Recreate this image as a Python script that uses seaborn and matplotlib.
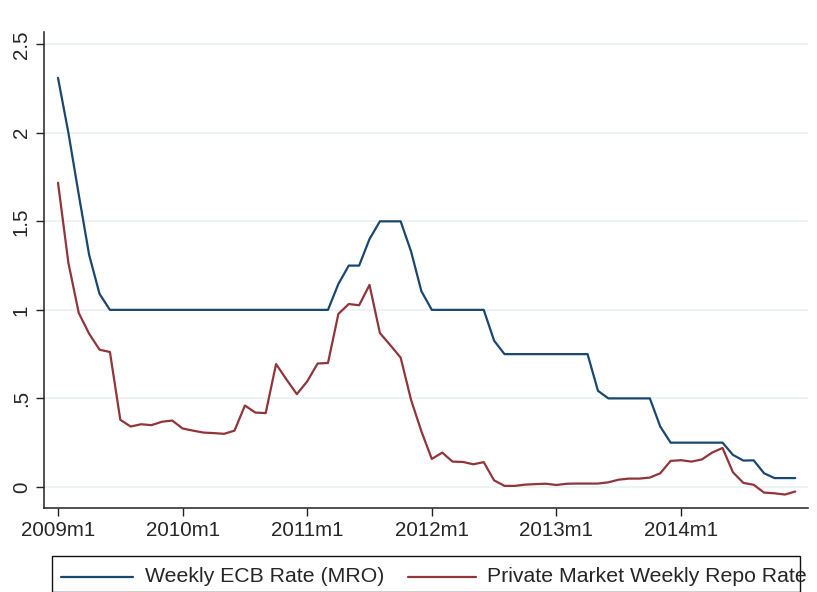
import numpy as np
import pandas as pd
import matplotlib.pyplot as plt
from matplotlib.lines import Line2D
from matplotlib.patches import Rectangle
import seaborn as sns

# Monthly series, 2009m1 .. 2014m12
months = pd.period_range("2009-01", "2014-12", freq="M")

ecb_rate = [
    2.31, 2.00, 1.65, 1.31, 1.09, 1.00, 1.00, 1.00, 1.00, 1.00, 1.00, 1.00,
    1.00, 1.00, 1.00, 1.00, 1.00, 1.00, 1.00, 1.00, 1.00, 1.00, 1.00, 1.00,
    1.00, 1.00, 1.00, 1.146, 1.25, 1.25, 1.40, 1.50, 1.50, 1.50, 1.33, 1.105,
    1.00, 1.00, 1.00, 1.00, 1.00, 1.00, 0.826, 0.75, 0.75, 0.75, 0.75, 0.75,
    0.75, 0.75, 0.75, 0.75, 0.543, 0.50, 0.50, 0.50, 0.50, 0.50, 0.341, 0.25,
    0.25, 0.25, 0.25, 0.25, 0.25, 0.181, 0.149, 0.15, 0.077, 0.05, 0.05, 0.05,
]

repo_rate = [
    1.718, 1.265, 0.982, 0.865, 0.775, 0.762, 0.379, 0.341, 0.354, 0.349, 0.368, 0.375,
    0.330, 0.318, 0.307, 0.304, 0.300, 0.318, 0.460, 0.420, 0.417, 0.694, 0.607, 0.524,
    0.596, 0.697, 0.700, 0.977, 1.033, 1.026, 1.141, 0.869, 0.801, 0.730, 0.492, 0.313,
    0.158, 0.194, 0.143, 0.141, 0.128, 0.140, 0.037, 0.006, 0.006, 0.013, 0.016, 0.018,
    0.011, 0.018, 0.019, 0.019, 0.019, 0.026, 0.041, 0.047, 0.047, 0.053, 0.077, 0.147,
    0.151, 0.143, 0.155, 0.194, 0.220, 0.083, 0.023, 0.012, -0.032, -0.036, -0.043, -0.026,
]

series_names = ["Weekly ECB Rate (MRO)", "Private Market Weekly Repo Rate"]
series_colors = ["#1a476f", "#90353b"]

x_ticks = [0, 12, 24, 36, 48, 60]
x_labels = ["2009m1", "2010m1", "2011m1", "2012m1", "2013m1", "2014m1"]
y_ticks = [0, 0.5, 1, 1.5, 2, 2.5]
y_labels = ["0", ".5", "1", "1.5", "2", "2.5"]

# long form table for seaborn
t = np.arange(len(months))
df = pd.concat([
    pd.DataFrame({"t": t, "rate": ecb_rate, "series": series_names[0]}),
    pd.DataFrame({"t": t, "rate": repo_rate, "series": series_names[1]}),
])

sns.set_style("white")
plt.rcParams["font.family"] = ["Liberation Sans", "DejaVu Sans"]

fig = plt.figure(figsize=(8.17, 5.92), dpi=100)
ax = fig.add_axes([44 / 817, 84 / 592, 764 / 817, 476.3 / 592])

for yv in y_ticks:
    ax.axhline(yv, color="#eaf2f3", lw=1.3, zorder=0)

sns.lineplot(data=df, x="t", y="rate", hue="series", palette=series_colors,
             hue_order=series_names, lw=1.6, legend=False, ax=ax)

ax.set_xlim(-1.35, 72.23)
ax.set_ylim(-0.119, 2.571)
ax.set_xticks(x_ticks)
ax.set_xticklabels(x_labels, fontsize=14.8)
ax.set_yticks(y_ticks)
ax.set_yticklabels(y_labels, fontsize=14.8, rotation=90, va="center")
ax.set_xlabel("")
ax.set_ylabel("")

for side in ["top", "right"]:
    ax.spines[side].set_visible(False)
for side in ["left", "bottom"]:
    ax.spines[side].set_color("#222222")
    ax.spines[side].set_linewidth(1.1)
ax.tick_params(axis="both", direction="out", length=5.5, width=1.0,
               color="#222222", left=True, bottom=True, pad=4)

# legend box drawn by hand (the original is cut off at the bottom)
fig.add_artist(Rectangle((51.7 / 817, 0), 748.3 / 817, 36 / 592,
                         transform=fig.transFigure, fill=False,
                         edgecolor="#111111", lw=1.0))
legend_y = 1 - 577 / 592
handle_x = [(61, 133), (408, 476)]
text_x = [145, 487]
for name, color, hx, tx in zip(series_names, series_colors, handle_x, text_x):
    fig.add_artist(Line2D([hx[0] / 817, hx[1] / 817], [legend_y, legend_y],
                          transform=fig.transFigure, color=color, lw=1.6))
    fig.text(tx / 817, legend_y, name, fontsize=15.3, va="center", ha="left")

fig.savefig("out.png", dpi=100)
